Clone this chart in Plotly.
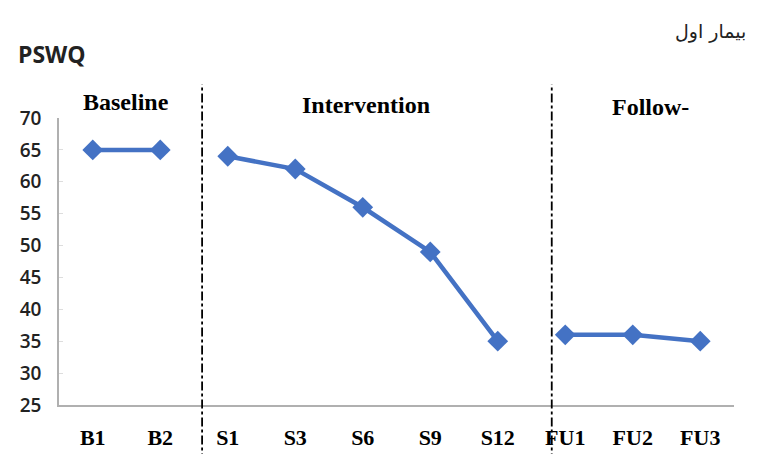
import plotly.graph_objects as go

sessions = ["B1", "B2", "S1", "S3", "S6", "S9", "S12", "FU1", "FU2", "FU3"]
pswq = [65, 65, 64, 62, 56, 49, 35, 36, 36, 35]
segments = [[0, 1], [2, 3, 4, 5, 6], [7, 8, 9]]
phase_labels = ["Baseline", "Intervention", "Follow-"]
phase_label_x = [0.099, 0.455, 0.876]
phase_label_y = [1.056, 1.045, 1.038]
phase_breaks = [1.62, 6.8]
y_ticks = [25, 30, 35, 40, 45, 50, 55, 60, 65, 70]

blue = "#4472C4"
fig = go.Figure()
for seg in segments:
    fig.add_trace(go.Scatter(
        x=[sessions[i] for i in seg], y=[pswq[i] for i in seg],
        mode="lines+markers",
        line=dict(color=blue, width=4.5),
        marker=dict(symbol="diamond", size=16, color=blue),
        showlegend=False, hoverinfo="skip"))

for b in phase_breaks:
    fig.add_shape(type="line", xref="x", yref="paper", x0=b, x1=b, y0=-0.2, y1=1.118,
                  line=dict(color="black", width=1.8, dash="dashdot"))

for t, xp, yp in zip(phase_labels, phase_label_x, phase_label_y):
    fig.add_annotation(text="<b>%s</b>" % t, xref="paper", yref="paper", x=xp, y=yp,
                       xanchor="center", yanchor="middle", showarrow=False,
                       font=dict(family="Liberation Serif", size=24, color="black"))

fig.add_annotation(text="<b>PSWQ</b>", xref="paper", yref="paper", x=-0.064, y=1.223,
                   xanchor="left", yanchor="middle", showarrow=False,
                   font=dict(family="Open Sans", size=23, color="#222"))
fig.add_annotation(text="بیمار اول", xref="paper", yref="paper", x=1.02, y=1.303,
                   xanchor="right", yanchor="middle", showarrow=False,
                   font=dict(family="DejaVu Sans", size=19, color="#222"))

fig.update_layout(
    width=777, height=454,
    margin=dict(l=51, r=51, t=110, b=57),
    paper_bgcolor="white", plot_bgcolor="white",
    xaxis=dict(type="category", categoryorder="array", categoryarray=sessions,
               range=[-0.5, 9.5], showgrid=False, showline=True, linecolor="#b0b0b0",
               linewidth=1.5, ticks="", ticklabelstandoff=12, automargin=False,
               tickfont=dict(family="Liberation Serif", size=22, color="black", weight="bold")),
    yaxis=dict(range=[25, 70], tickvals=y_ticks, showgrid=False, showline=True,
               linecolor="#b0b0b0", linewidth=1.5, ticks="inside", ticklen=4,
               tickcolor="#dddddd", ticklabelstandoff=12, automargin=False,
               zeroline=False,
               tickfont=dict(family="Open Sans", size=19, color="#222", weight=600)),
)
fig.write_html("out.html")
